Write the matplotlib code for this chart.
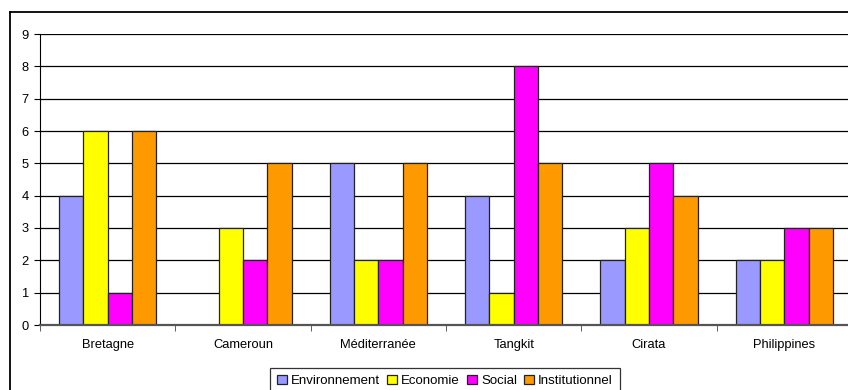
import numpy as np
import matplotlib
matplotlib.use("Agg")
import matplotlib.pyplot as plt
from matplotlib.lines import Line2D

plt.rcParams['font.family'] = ['Liberation Sans', 'DejaVu Sans']

sites = ["Bretagne", "Cameroun", "Méditerranée", "Tangkit", "Cirata", "Philippines"]
series_names = ["Environnement", "Economie", "Social", "Institutionnel"]
environnement = [4, 0, 5, 4, 2, 2]
economie = [6, 3, 2, 1, 3, 2]
social = [1, 2, 2, 8, 5, 3]
institutionnel = [6, 5, 5, 5, 4, 3]
colors = ["#9999FF", "#FFFF00", "#FF00FF", "#FF9900"]

fig = plt.figure(figsize=(8.48, 3.9), dpi=100)
ax = fig.add_axes([40 / 848, 65 / 390, 812 / 848, 291 / 390])

x = np.arange(len(sites))
w = 0.18
all_series = [environnement, economie, social, institutionnel]
for i, vals in enumerate(all_series):
    ax.bar(x + (i - 1.5) * w, vals, w, color=colors[i], edgecolor="#222222",
           linewidth=0.9, label=series_names[i], zorder=2)

ax.set_xlim(-0.5, len(sites) - 0.5)
ax.set_ylim(0, 9)
ax.set_yticks(range(10))
ax.yaxis.grid(True, color="black", linewidth=0.9, zorder=0)
ax.set_axisbelow(True)
ax.set_xticks(x)
ax.set_xticklabels(sites, fontsize=9.3)
ax.set_xticks(np.arange(len(sites) + 1) - 0.5, minor=True)
ax.tick_params(axis="x", which="major", length=0, pad=10)
ax.tick_params(axis="x", which="minor", length=4, color="#444444")
ax.tick_params(axis="y", labelsize=9.3, length=4, pad=4)
for s in ["top", "right"]:
    ax.spines[s].set_visible(False)
ax.spines["bottom"].set_color("#555555")
ax.spines["bottom"].set_linewidth(1.6)
ax.spines["bottom"].set_zorder(3)
ax.spines["left"].set_color("black")
ax.spines["left"].set_zorder(3)

leg = fig.legend(loc="center", bbox_to_anchor=(445 / 848, 1 - 381 / 390), ncol=4,
                 fontsize=9.5, frameon=True, fancybox=False, handlelength=0.75,
                 handleheight=0.75, handletextpad=0.3, columnspacing=0.55,
                 borderpad=0.5, borderaxespad=0)
leg.get_frame().set_edgecolor("black")
leg.get_frame().set_linewidth(0.9)

# outer chart border (runs off right and bottom edges)
fig.add_artist(Line2D([10 / 848, 10 / 848], [1 - 12 / 390, -0.1], color="black", linewidth=1.3))
fig.add_artist(Line2D([10 / 848, 1.1], [1 - 12 / 390, 1 - 12 / 390], color="black", linewidth=1.3))

fig.savefig("out.png", dpi=100)
